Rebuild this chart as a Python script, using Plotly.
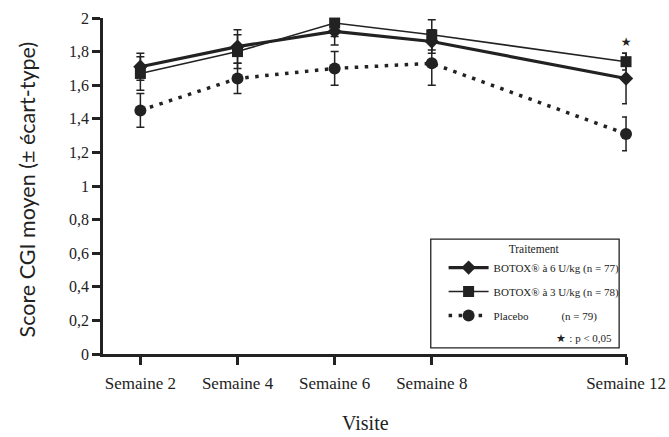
import plotly.graph_objects as go

weeks = [2, 4, 6, 8, 12]
week_labels = ["Semaine 2", "Semaine 4", "Semaine 6", "Semaine 8", "Semaine 12"]

botox6 = [1.71, 1.83, 1.92, 1.86, 1.64]
botox6_sd = [0.08, 0.10, 0.08, 0.07, 0.15]
botox3 = [1.67, 1.80, 1.97, 1.90, 1.74]
botox3_sd = [0.10, 0.10, 0.08, 0.09, 0.05]
placebo = [1.45, 1.64, 1.70, 1.73, 1.31]
placebo_sd = [0.10, 0.09, 0.10, 0.13, 0.10]

sig_weeks = [12]

y_ticks = [0, 0.2, 0.4, 0.6, 0.8, 1, 1.2, 1.4, 1.6, 1.8, 2]
y_tick_labels = ["0", "0,2", "0,4", "0,6", "0,8", "1", "1,2", "1,4", "1,6", "1,8", "2"]

names = ["BOTOX® à 6 U/kg (n = 77)", "BOTOX® à 3 U/kg (n = 78)", "Placebo            (n = 79)"]

INK = "#222222"
SERIF = "Liberation Serif, Times New Roman, serif"

fig = go.Figure()

fig.add_trace(go.Scatter(
    x=weeks, y=botox6, name=names[0], mode="lines+markers",
    line=dict(color=INK, width=3.2),
    marker=dict(symbol="diamond", size=11, color=INK),
    error_y=dict(type="data", array=botox6_sd, color=INK, thickness=1.5, width=4),
    cliponaxis=False, legendrank=1, legendgroup="g6",
))
fig.add_trace(go.Scatter(
    x=weeks, y=botox3, name=names[1], mode="lines+markers",
    line=dict(color=INK, width=1.6),
    marker=dict(symbol="square", size=11, color=INK),
    error_y=dict(type="data", array=botox3_sd, color=INK, thickness=1.5, width=4),
    cliponaxis=False, legendrank=2, legendgroup="g3",
))
fig.add_trace(go.Scatter(
    x=weeks, y=placebo, name=names[2], mode="lines+markers",
    line=dict(color=INK, width=3.5, dash="3.5px,6.5px"),
    marker=dict(symbol="circle", size=12, color=INK),
    error_y=dict(type="data", array=placebo_sd, color=INK, thickness=1.5, width=4),
    cliponaxis=False, legendrank=3, legendgroup="gp",
))

# significance star above the 3 U/kg point
sig_idx = [weeks.index(w) for w in sig_weeks]
fig.add_trace(go.Scatter(
    x=sig_weeks, y=[botox3[i] + botox3_sd[i] + 0.06 for i in sig_idx],
    mode="text", text=["★"] * len(sig_idx),
    textfont=dict(size=12, color=INK, family="DejaVu Sans"),
    showlegend=False, cliponaxis=False, hoverinfo="skip",
))

fig.update_layout(
    template="none",
    width=669, height=437,
    margin=dict(l=103, r=42, t=18, b=83, autoexpand=False),
    plot_bgcolor="white", paper_bgcolor="white",
    font=dict(family=SERIF, color=INK),
    showlegend=True,
    legend=dict(
        x=0.65, y=0.345, xanchor="left", yanchor="top",
        bgcolor="rgba(0,0,0,0)", borderwidth=0,
        font=dict(size=11, family=SERIF, color=INK),
        title=dict(text="Traitement", side="top center", font=dict(size=11.5, family=SERIF, color=INK)),
        tracegroupgap=5, itemwidth=40,
    ),
    shapes=[dict(
        type="rect", xref="paper", yref="paper",
        x0=0.6255, x1=0.985, y0=0.018, y1=0.342,
        line=dict(color=INK, width=1.3), fillcolor="rgba(0,0,0,0)", layer="above",
    )],
    annotations=[
        dict(text="★ <span style='font-family:Liberation Serif'>: p &lt; 0,05</span>",
             xref="paper", yref="paper", x=0.975, y=0.045,
             xanchor="right", yanchor="middle", showarrow=False,
             font=dict(size=11, family="DejaVu Sans", color=INK)),
        dict(text="Score CGI moyen (± écart-type)", xref="paper", yref="paper",
             x=-0.145, y=0.49, xanchor="center", yanchor="middle", textangle=-90,
             showarrow=False, font=dict(size=21.5, family="Lato, Open Sans, sans-serif", color=INK)),
        dict(text="Visite", xref="paper", yref="paper",
             x=0.5, y=-0.243, xanchor="center", yanchor="bottom",
             showarrow=False, font=dict(size=20, family=SERIF, color=INK)),
    ],
)

fig.update_xaxes(
    range=[1.23, 12.02], tickvals=weeks, ticktext=week_labels,
    showline=True, linewidth=2.5, linecolor=INK, mirror=False,
    ticks="outside", ticklen=8, tickwidth=2.5, tickcolor=INK,
    showgrid=False, zeroline=False, ticklabelstandoff=4, automargin=False,
    tickfont=dict(size=17, family=SERIF, color=INK),
)
fig.update_yaxes(
    range=[0, 2], tickvals=y_ticks, ticktext=y_tick_labels,
    showline=True, linewidth=2.5, linecolor=INK, mirror=False,
    ticks="outside", ticklen=8, tickwidth=2.5, tickcolor=INK,
    showgrid=False, zeroline=False, automargin=False,
    tickfont=dict(size=16, family=SERIF, color=INK),
)

fig.write_html("out.html", config={"displayModeBar": False},
               post_script="document.body.style.margin='0px';")
